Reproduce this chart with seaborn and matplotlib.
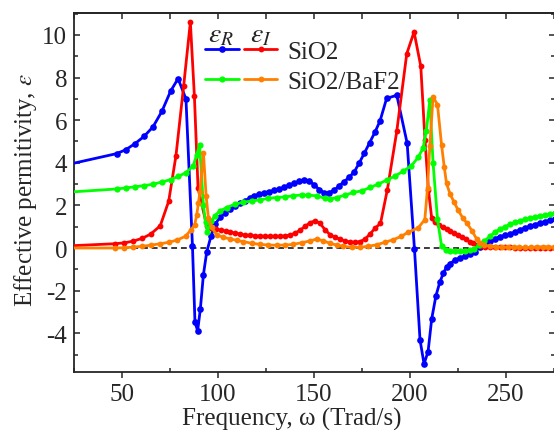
import matplotlib
matplotlib.use("Agg")
import matplotlib.pyplot as plt
import seaborn as sns
from matplotlib.lines import Line2D
from matplotlib.legend_handler import HandlerTuple
from matplotlib.ticker import MultipleLocator

# SiO2, real part (eps_R)
w_sio2_re = [10, 47.2, 51.9, 56.8, 61.5, 66.1, 70.8, 75.3, 79.2, 83.3, 86.7, 88.0, 89.4, 90.8,
             92.4, 94.1, 96.4, 98.6, 101.0, 103.5, 106.0, 108.6, 111.2, 113.8, 116.4, 119.0,
             121.6, 124.2, 126.8, 129.4, 132.0, 134.6, 137.2, 139.8, 142.4, 145.0, 147.6, 150.2,
             152.8, 155.4, 158.0, 160.6, 163.2, 165.8, 168.4, 171.0, 173.6, 176.2, 179.0, 181.8,
             184.4, 187.8, 193.1, 198.5, 202.3, 205.2, 207.3, 209.4, 211.3, 213.5, 215.5, 217.4,
             219.1, 220.8, 223.4, 226.0, 228.6, 231.3, 233.9, 236.5, 239.1, 241.7, 244.3, 246.9,
             249.5, 252.1, 254.7, 257.3, 259.9, 262.5, 265.1, 267.7, 270.3, 272.9, 275.5]
eps_sio2_re = [3.68, 4.43, 4.61, 4.90, 5.24, 5.68, 6.42, 7.36, 7.95, 7.00, 0.08, -3.49, -3.88, -2.86,
               -1.25, -0.20, 0.58, 1.12, 1.45, 1.66, 1.83, 1.97, 2.09, 2.20, 2.34, 2.45,
               2.53, 2.60, 2.65, 2.70, 2.77, 2.86, 2.96, 3.05, 3.14, 3.21, 3.15, 2.95,
               2.74, 2.58, 2.60, 2.72, 2.93, 3.12, 3.33, 3.58, 4.00, 4.45, 4.95, 5.45,
               5.97, 7.02, 7.17, 4.92, -0.03, -4.31, -5.44, -4.86, -3.32, -2.24, -1.61, -1.17,
               -0.88, -0.73, -0.57, -0.46, -0.38, -0.30, -0.18, 0.06, 0.22, 0.34, 0.44, 0.53,
               0.60, 0.66, 0.75, 0.85, 0.94, 1.02, 1.10, 1.17, 1.24, 1.30, 1.35]

# SiO2, imaginary part (eps_I)
w_sio2_im = [10, 46.2, 51.0, 55.7, 60.4, 64.9, 69.9, 74.3, 78.1, 82.1, 85.6, 87.7, 89.6, 94.1,
             96.5, 99.0, 101.5, 104.0, 106.5, 109.0, 111.6, 114.2, 116.8, 119.4, 122.0, 124.6,
             127.2, 129.8, 132.4, 135.0, 137.6, 140.2, 142.8, 145.4, 148.0, 150.6, 153.2, 155.8,
             158.4, 161.0, 163.6, 166.2, 168.8, 171.4, 174.0, 176.6, 179.2, 182.0, 184.6, 188.2,
             193.1, 198.3, 202.1, 205.6, 207.8, 209.6, 211.3, 213.0, 215.0, 217.0, 219.0, 221.0,
             223.0, 225.0, 227.0, 229.0, 231.0, 233.0, 235.0, 237.0, 239.0, 241.5, 244.1, 246.7,
             249.3, 251.9, 254.5, 257.1, 259.7, 262.3, 264.9, 267.5, 270.1, 272.7, 275.3]
eps_sio2_im = [0.05, 0.20, 0.24, 0.32, 0.45, 0.65, 1.04, 2.19, 4.33, 7.60, 10.60, 7.13, 2.82, 1.05,
               0.93, 0.88, 0.84, 0.79, 0.74, 0.70, 0.65, 0.61, 0.59, 0.57, 0.56, 0.55,
               0.55, 0.55, 0.55, 0.57, 0.61, 0.70, 0.84, 1.02, 1.19, 1.28, 1.15, 0.85,
               0.62, 0.50, 0.41, 0.33, 0.28, 0.27, 0.30, 0.42, 0.66, 0.95, 1.15, 2.74,
               5.48, 9.12, 10.14, 8.53, 5.07, 2.72, 1.39, 1.22, 1.08, 0.98, 0.90, 0.80,
               0.70, 0.60, 0.50, 0.40, 0.30, 0.22, 0.15, 0.10, 0.07, 0.05, 0.04, 0.03,
               0.03, 0.03, 0.02, 0.02, 0.02, 0.02, 0.02, 0.02, 0.02, 0.02, 0.02]

# SiO2/BaF2, real part (eps_R)
w_baf2_re = [10, 47.2, 51.9, 56.8, 61.5, 66.1, 70.8, 75.3, 79.1, 83.3, 87.1, 88.9, 90.4, 92.4,
             93.5, 94.4, 96.5, 98.4, 101.0, 104.5, 108.9, 113.2, 117.6, 121.9, 126.2, 130.6,
             134.9, 139.2, 143.6, 147.0, 151.4, 155.7, 158.3, 161.8, 166.1, 170.5, 174.8, 179.2,
             183.5, 187.9, 192.2, 196.4, 200.7, 204.2, 206.8, 208.5, 210.3, 212.0, 214.3, 216.4,
             218.5, 221.0, 223.5, 226.0, 228.5, 231.0, 233.5, 236.0, 238.5, 241.7, 244.3, 246.9,
             249.5, 252.1, 254.7, 257.3, 259.9, 262.5, 265.1, 267.7, 270.3, 272.9, 275.5]
eps_baf2_re = [2.55, 2.77, 2.82, 2.87, 2.93, 2.99, 3.10, 3.21, 3.36, 3.53, 3.86, 4.38, 4.84, 2.00,
               1.20, 0.77, 1.25, 1.52, 1.74, 1.90, 2.06, 2.15, 2.21, 2.26, 2.33, 2.37,
               2.40, 2.45, 2.49, 2.48, 2.45, 2.33, 2.29, 2.37, 2.48, 2.61, 2.68, 2.84,
               3.00, 3.19, 3.38, 3.60, 3.86, 4.25, 4.69, 5.51, 6.93, 3.99, 1.35, 0.10,
               -0.08, -0.13, -0.15, -0.15, -0.13, -0.10, -0.03, 0.12, 0.32, 0.55, 0.75, 0.89,
               1.00, 1.12, 1.20, 1.28, 1.35, 1.41, 1.46, 1.51, 1.55, 1.59, 1.62]

# SiO2/BaF2, imaginary part (eps_I)
w_baf2_im = [10, 46.2, 51.0, 55.7, 60.4, 64.9, 69.9, 74.6, 78.8, 83.1, 85.7, 87.8, 88.9, 89.8,
             90.6, 92.4, 93.8, 95.0, 96.7, 99.3, 102.8, 106.3, 109.7, 113.2, 117.6, 121.9,
             126.2, 130.6, 134.9, 139.2, 143.6, 147.9, 151.4, 154.8, 158.3, 161.8, 165.2, 169.6,
             173.9, 178.2, 182.6, 186.9, 191.3, 195.5, 199.0, 204.2, 207.7, 209.1, 210.3, 212.0,
             214.3, 216.4, 217.8, 219.0, 220.8, 223.0, 225.1, 227.4, 229.7, 232.3, 234.7, 236.5,
             238.4, 241.9, 245.0, 248.0, 251.0, 254.0, 257.0, 260.0, 263.0, 266.0, 269.0, 272.0,
             275.0]
eps_baf2_im = [0.00, 0.00, 0.01, 0.04, 0.08, 0.13, 0.20, 0.27, 0.38, 0.55, 0.83, 1.07, 1.55, 2.10,
               2.65, 4.48, 2.45, 1.40, 0.97, 0.62, 0.50, 0.43, 0.36, 0.30, 0.22, 0.17,
               0.14, 0.13, 0.14, 0.17, 0.25, 0.33, 0.42, 0.34, 0.22, 0.14, 0.08, 0.03,
               0.03, 0.08, 0.15, 0.27, 0.39, 0.55, 0.74, 0.94, 1.33, 2.82, 4.77, 7.09,
               6.73, 4.85, 3.82, 3.03, 2.55, 2.14, 1.77, 1.42, 1.16, 0.80, 0.42, 0.25,
               0.14, 0.08, 0.05, 0.04, 0.04, 0.03, 0.03, 0.03, 0.03, 0.03, 0.03, 0.03,
               0.03]

sns.set_style("ticks")
plt.rcParams['font.family'] = ['Liberation Serif', 'DejaVu Serif']
plt.rcParams['mathtext.fontset'] = 'stix'
plt.rcParams['axes.unicode_minus'] = False
plt.rcParams['font.size'] = 18

fig = plt.figure(figsize=(5.54, 4.31), dpi=100)
ax = fig.add_axes([74 / 554, 58 / 431, 481 / 554, 359 / 431])

ax.axhline(0, color='#3a3a3a', lw=1.4, ls=(0, (3, 2)), zorder=1)

LW = 2.0
series = [
    (w_sio2_re, eps_sio2_re, '#0000ff', 4.8),
    (w_sio2_im, eps_sio2_im, '#ff0000', 4.2),
    (w_baf2_re, eps_baf2_re, '#00ff00', 4.5),
    (w_baf2_im, eps_baf2_im, '#ff8000', 4.2),
]
for w, eps, col, ms in series:
    sns.lineplot(x=w, y=eps, ax=ax, color=col, marker='o', markersize=ms,
                 markeredgewidth=0, linewidth=LW, estimator=None, sort=False,
                 legend=False, zorder=3)

ax.set_xlim(25, 275.5)
ax.set_ylim(-5.82, 11.03)
ax.xaxis.set_major_locator(MultipleLocator(50))
ax.xaxis.set_minor_locator(MultipleLocator(25))
ax.yaxis.set_major_locator(MultipleLocator(2))
ax.yaxis.set_minor_locator(MultipleLocator(1))

for s in ax.spines.values():
    s.set_linewidth(1.3)
    s.set_visible(True)
ax.tick_params(axis='y', which='both', direction='in', left=True, right=True,
               width=1.1, labelsize=18, pad=5)
ax.tick_params(axis='y', which='major', length=4.5)
ax.tick_params(axis='y', which='minor', length=3)
ax.tick_params(axis='x', which='major', direction='out', length=4, width=1.1,
               labelsize=18, pad=4)
ax.tick_params(axis='x', which='minor', direction='in', length=3, width=1.1)

# top axis: ticks only, pointing inwards
top = ax.secondary_xaxis('top')
top.xaxis.set_major_locator(MultipleLocator(25))
top.tick_params(direction='in', length=4, width=1.1, labeltop=False)
top.spines['top'].set_linewidth(1.3)

ax.set_xlabel('Frequency, ω (Trad/s)', fontsize=18, x=0.453, labelpad=1)
ax.set_ylabel(r'Effective permitivity, $\varepsilon$', fontsize=18, y=0.51, labelpad=2)

# legend: two handles per row (eps_R, eps_I)
def handle(col, ms):
    return Line2D([], [], color=col, marker='o', markersize=ms, markeredgewidth=0, linewidth=LW)

leg = ax.legend(
    handles=[(handle('#0000ff', 4.8), handle('#ff0000', 4.2)),
             (handle('#00ff00', 4.5), handle('#ff8000', 4.2))],
    labels=['SiO2', 'SiO2/BaF2'],
    handler_map={tuple: HandlerTuple(ndivide=None, pad=0.2)},
    loc='upper left', bbox_to_anchor=(0.273, 0.923), frameon=False,
    borderpad=0, borderaxespad=0, handlelength=2.88, handletextpad=0.4,
    labelspacing=0.28, numpoints=1, fontsize=18)

ax.text(0.306, 0.94, r'$\varepsilon_R$', transform=ax.transAxes, ha='center', va='center', fontsize=20)
ax.text(0.388, 0.94, r'$\varepsilon_I$', transform=ax.transAxes, ha='center', va='center', fontsize=20)

fig.savefig('out.png', dpi=100)
